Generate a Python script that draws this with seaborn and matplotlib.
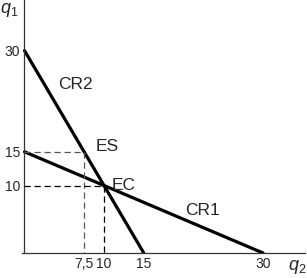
import numpy as np
import pandas as pd
import matplotlib
matplotlib.use("Agg")
import matplotlib.pyplot as plt
import seaborn as sns

# reaction curves (q2 on x, q1 on y)
cr1_q2 = [0, 30]
cr1_q1 = [15, 0]
cr2_q2 = [0, 15]
cr2_q1 = [30, 0]

# equilibrium points
es_q2, es_q1 = 7.5, 15
ec_q2, ec_q1 = 10, 10

x_ticks = [7.5, 10, 15, 30]
x_tick_labels = ["7,5", "10", "15", "30"]
y_ticks = [10, 15, 30]
y_tick_labels = ["10", "15", "30"]

sns.set_style("white")
plt.rcParams['font.family'] = ['Liberation Sans', 'DejaVu Sans']
plt.rcParams['mathtext.fontset'] = 'custom'
plt.rcParams['mathtext.rm'] = 'Liberation Sans'
plt.rcParams['mathtext.it'] = 'Liberation Sans:italic'

fig = plt.figure(figsize=(3.07, 2.78), dpi=100)
ax = fig.add_axes([0.072, 0.09, 0.922, 0.91])

df1 = pd.DataFrame({"q2": cr1_q2, "q1": cr1_q1})
df2 = pd.DataFrame({"q2": cr2_q2, "q1": cr2_q1})
sns.lineplot(data=df1, x="q2", y="q1", ax=ax, color="black", linewidth=2.3)
sns.lineplot(data=df2, x="q2", y="q1", ax=ax, color="black", linewidth=2.3)

# dashed guide lines
ax.plot([0, es_q2, es_q2], [es_q1, es_q1, 0], color="#555555", linestyle=(0, (5, 3)), linewidth=0.9)
ax.plot([0, ec_q2, ec_q2], [ec_q1, ec_q1, 0], color="black", linestyle=(0, (5, 3)), linewidth=0.9)

ax.set_xlim(-0.3, 35.3)
ax.set_ylim(0, 37.5)
ax.set_xticks(x_ticks)
ax.set_xticklabels(x_tick_labels)
ax.set_yticks(y_ticks)
ax.set_yticklabels(y_tick_labels)
ax.tick_params(length=0, labelsize=10, pad=3)
ax.set_xlabel("")
ax.set_ylabel("")

for s in ["top", "right"]:
    ax.spines[s].set_visible(False)
for s in ["left", "bottom"]:
    ax.spines[s].set_color("#333333")
    ax.spines[s].set_linewidth(0.9)
ax.spines["left"].set_position(("data", 0))

ax.text(6.4, 25.0, "CR2", fontsize=12.5, ha="center", va="center")
ax.text(10.4, 15.8, "ES", fontsize=12.5, ha="center", va="center")
ax.text(12.5, 10.0, "EC", fontsize=12.5, ha="center", va="center")
ax.text(22.4, 6.3, "CR1", fontsize=12.5, ha="center", va="center")

fig.text(0.0, 0.998, r"$q_1$", fontsize=13, ha="left", va="top")
fig.text(0.998, 0.04, r"$q_2$", fontsize=13, ha="right", va="center")

fig.savefig("out.png", dpi=100)
